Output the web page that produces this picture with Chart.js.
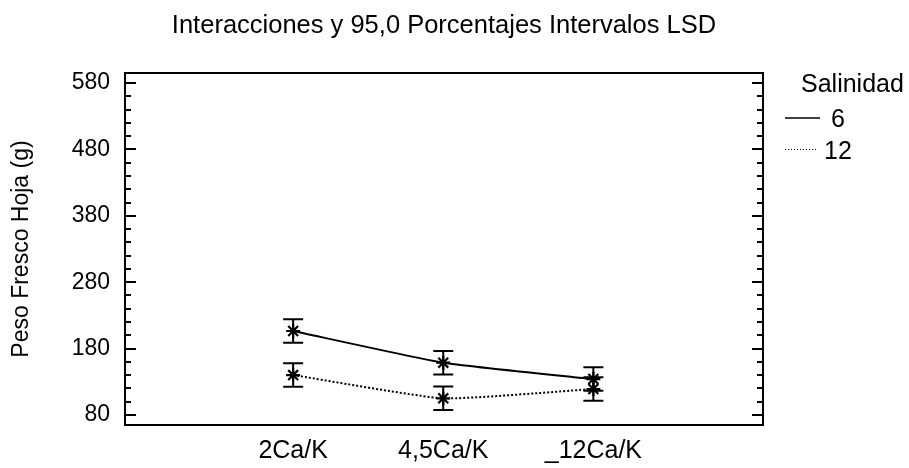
<!DOCTYPE html>
<html>
<head>
<meta charset="utf-8">
<script src="https://cdn.jsdelivr.net/npm/chart.js@4.4.1/dist/chart.umd.min.js"></script>
<style>
    html, body { margin: 0; padding: 0; background: #fff; }
    #wrap { width: 909px; height: 468px; }
</style>
</head>
<body>
<div id="wrap"><canvas id="chart"></canvas></div>
<script>
const chartTitle  = "Interacciones y 95,0 Porcentajes Intervalos LSD";
const yTitle      = "Peso Fresco Hoja (g)";
const legendTitle = "Salinidad";
const categories  = ["2Ca/K", "4,5Ca/K", "_12Ca/K"];
const seriesNames = ["6", "12"];
const salinidad6  = [206.5, 158.8, 134.2];
const salinidad12 = [140.2, 105.2, 119.2];
const lsd6        = [17.6, 17.6, 17.6];   // semi-amplitud intervalo LSD
const lsd12       = [17.6, 17.6, 17.6];
const yTicks      = [80, 180, 280, 380, 480, 580];

const FONT = "Arial, 'Liberation Sans', sans-serif";

const toPoints = vals => vals.map((v, i) => ({ x: i + 1, y: v }));

// marco, marcas interiores, barras LSD, titulo y leyenda
const decor = {
    id: "decor",
    beforeDatasetsDraw(chart) {
        const ctx = chart.ctx;
        const ys = chart.scales.y;
        ctx.save();
        ctx.strokeStyle = "#000";
        ctx.lineWidth = 2;
        chart.data.datasets.forEach((ds, di) => {
            const meta = chart.getDatasetMeta(di);
            meta.data.forEach((pt, i) => {
                const v = ds.data[i].y, e = ds.lsd[i];
                const top = ys.getPixelForValue(v + e);
                const bot = ys.getPixelForValue(v - e);
                ctx.beginPath();
                ctx.moveTo(pt.x, top); ctx.lineTo(pt.x, bot);
                ctx.moveTo(pt.x - 10, top); ctx.lineTo(pt.x + 10, top);
                ctx.moveTo(pt.x - 10, bot); ctx.lineTo(pt.x + 10, bot);
                ctx.stroke();
            });
        });
        ctx.restore();
    },
    afterDraw(chart) {
        const ctx = chart.ctx;
        const a = chart.chartArea;
        const ys = chart.scales.y;
        ctx.save();
        ctx.strokeStyle = "#000";
        ctx.lineWidth = 2;
        ctx.strokeRect(a.left, a.top, a.right - a.left, a.bottom - a.top);

        ctx.beginPath();
        for (let v = Math.ceil(ys.min / 20) * 20; v <= ys.max; v += 20) {
            const y = Math.round(ys.getPixelForValue(v));
            const len = yTicks.includes(v) ? 11 : 6;
            ctx.moveTo(a.left, y);  ctx.lineTo(a.left + len, y);
            ctx.moveTo(a.right, y); ctx.lineTo(a.right - len, y);
        }
        ctx.stroke();

        ctx.fillStyle = "#000";
        ctx.font = "25.5px " + FONT;
        ctx.textAlign = "center";
        ctx.textBaseline = "alphabetic";
        ctx.fillText(chartTitle, (a.left + a.right) / 2, 33);

        // leyenda
        const lx = a.right + 22;
        ctx.font = "25px " + FONT;
        ctx.textAlign = "left";
        ctx.fillText(legendTitle, a.right + 38, 92);
        ctx.textAlign = "center";
        ctx.fillText(seriesNames[0], a.right + 75, 127);
        ctx.fillText(seriesNames[1], a.right + 75, 159);

        ctx.lineWidth = 1.5;
        ctx.beginPath();
        ctx.moveTo(lx, 118); ctx.lineTo(lx + 35, 118);
        ctx.stroke();
        ctx.lineWidth = 1;
        ctx.setLineDash([1, 2]);
        ctx.beginPath();
        ctx.moveTo(lx, 149.5); ctx.lineTo(lx + 31, 149.5);
        ctx.stroke();
        ctx.restore();
    }
};

new Chart(document.getElementById("chart"), {
    type: "line",
    data: {
        datasets: [
            {
                label: seriesNames[0],
                data: toPoints(salinidad6),
                lsd: lsd6,
                borderColor: "#000",
                borderWidth: 2,
                pointStyle: "star",
                pointRadius: 7,
                pointBorderWidth: 2.2,
                pointBorderColor: "#000",
                pointBackgroundColor: "#000",
                tension: 0.15
            },
            {
                label: seriesNames[1],
                data: toPoints(salinidad12),
                lsd: lsd12,
                borderColor: "#000",
                borderWidth: 2,
                borderDash: [2, 2],
                pointStyle: "star",
                pointRadius: 7,
                pointBorderWidth: 2.2,
                pointBorderColor: "#000",
                pointBackgroundColor: "#000",
                tension: 0.15
            }
        ]
    },
    options: {
        responsive: true,
        maintainAspectRatio: false,
        animation: false,
        devicePixelRatio: 1,
        layout: { padding: { top: 73, right: 146, left: 0, bottom: 0 } },
        plugins: {
            legend: { display: false },
            title: { display: false },
            tooltip: { enabled: false }
        },
        scales: {
            x: {
                type: "linear",
                min: -0.12,
                max: 4.13,
                afterBuildTicks: s => { s.ticks = categories.map((c, i) => ({ value: i + 1 })); },
                afterFit: s => { s.height = 43; },
                ticks: {
                    callback: v => categories[v - 1] ?? "",
                    color: "#000",
                    font: { family: FONT, size: 25 },
                    padding: 11,
                    autoSkip: false,
                    maxRotation: 0
                },
                grid: { display: false, drawTicks: false },
                border: { display: false }
            },
            y: {
                min: 65,
                max: 595,
                afterBuildTicks: s => { s.ticks = yTicks.map(v => ({ value: v })); },
                afterFit: s => { s.width = 125; },
                ticks: {
                    color: "#000",
                    font: { family: FONT, size: 23 },
                    padding: 15
                },
                title: {
                    display: true,
                    text: yTitle,
                    color: "#000",
                    font: { family: FONT, size: 23 },
                    padding: { top: 8, bottom: 0 }
                },
                grid: { display: false, drawTicks: false },
                border: { display: false }
            }
        }
    },
    plugins: [decor]
});
</script>
</body>
</html>
